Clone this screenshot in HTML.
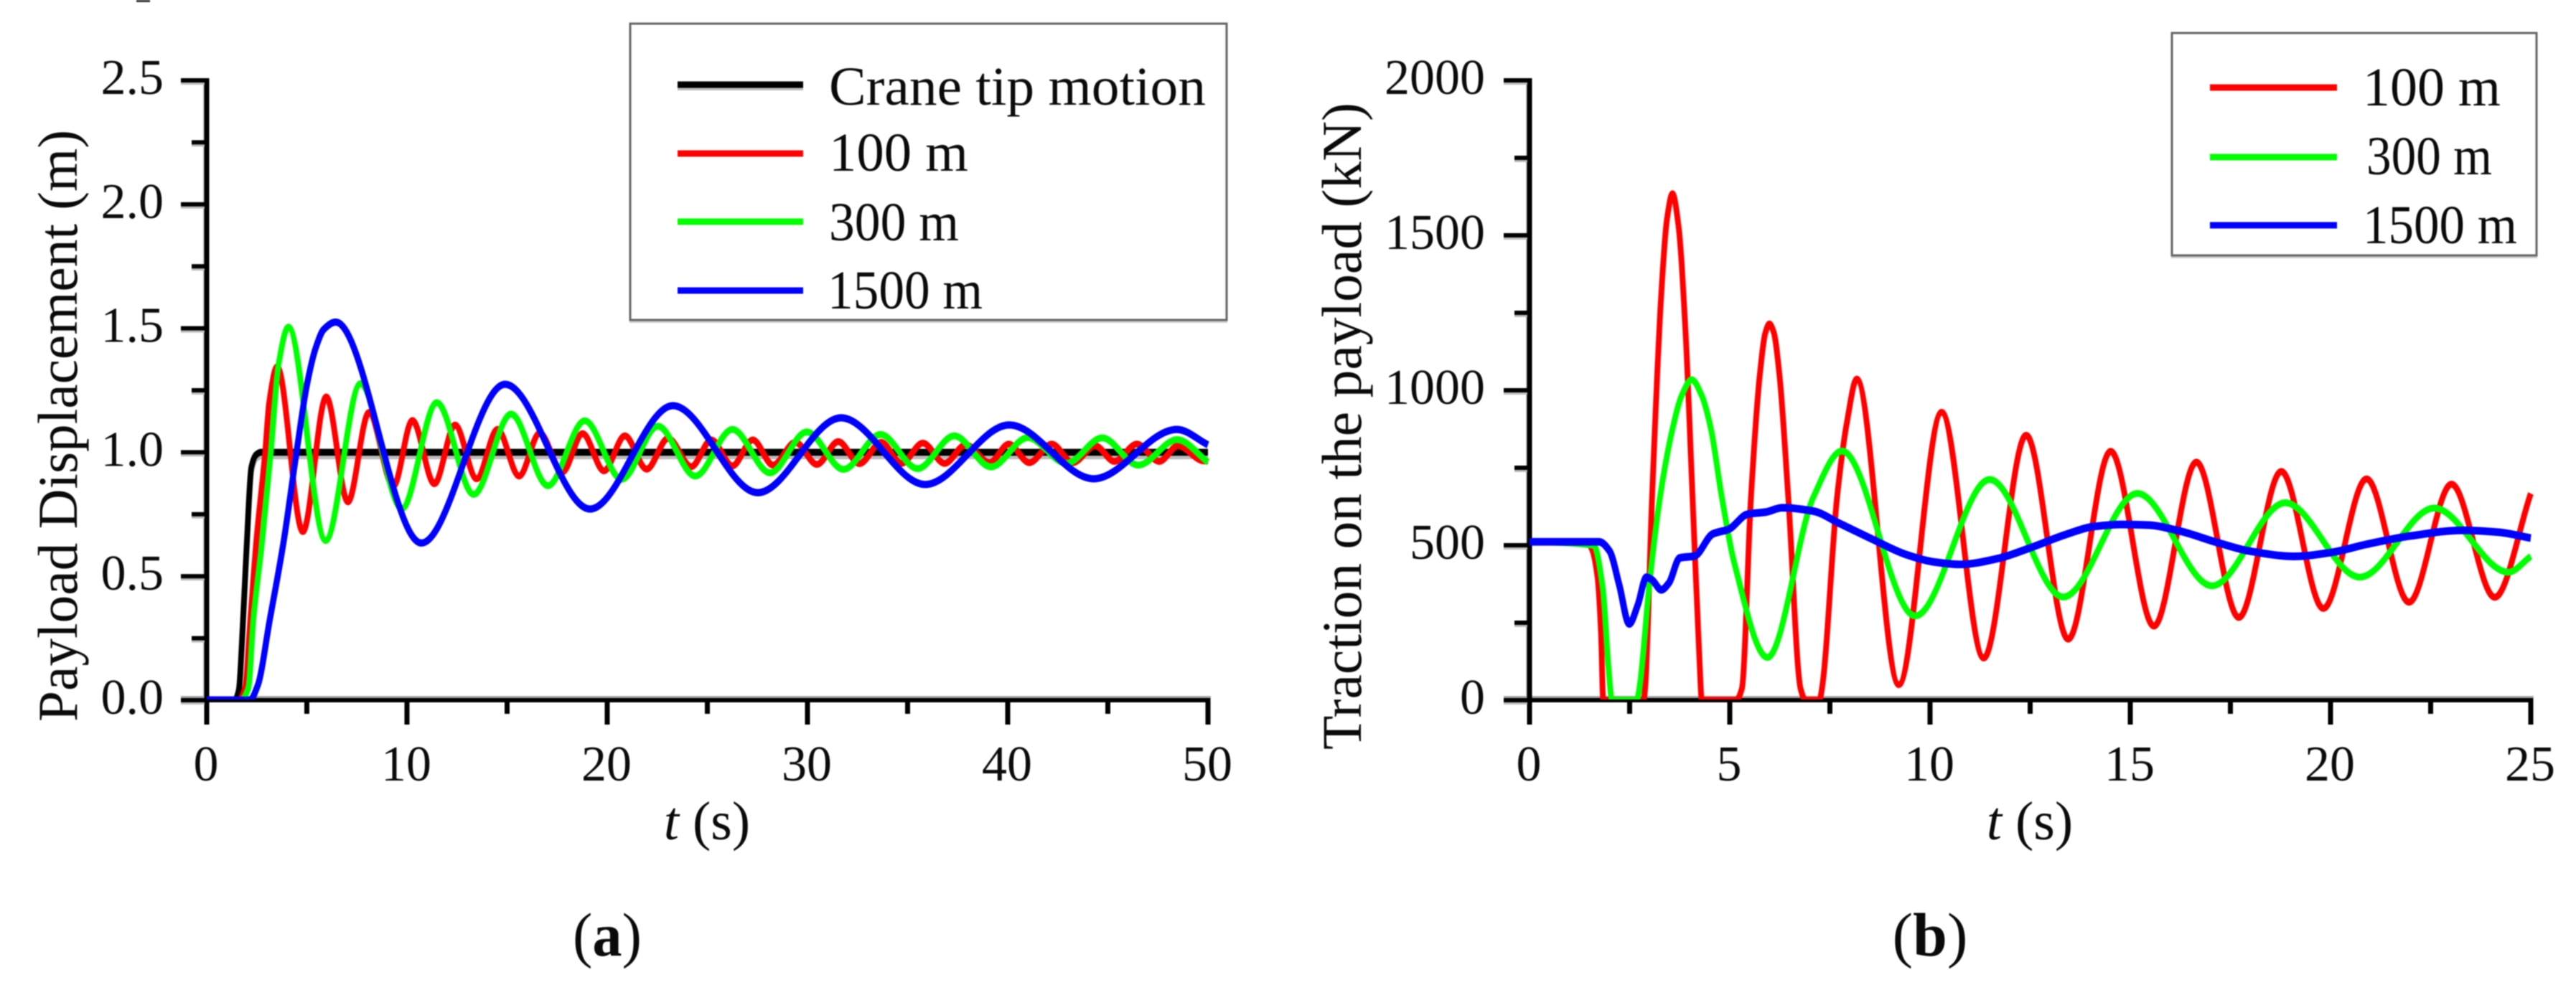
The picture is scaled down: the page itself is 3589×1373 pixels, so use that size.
<!DOCTYPE html>
<html>
<head>
<meta charset="utf-8">
<title>Payload displacement and traction</title>
<style>
html,body{margin:0;padding:0;background:#fff;width:3589px;height:1373px;overflow:hidden}
svg{display:block;position:absolute;left:0;top:0;filter:blur(0.7px)}
text{font-family:"Liberation Serif",serif;fill:#0a0a0a}
</style>
</head>
<body>
<svg id="figure" xmlns="http://www.w3.org/2000/svg" width="3589" height="1373" viewBox="0 0 3589 1373">
  <defs>
    <clipPath id="clip-a"><rect x="0" y="0" width="1690" height="975"/></clipPath>
    <clipPath id="clip-b"><rect x="2000" y="0" width="1533" height="975"/></clipPath>
  </defs>
  <rect x="0" y="0" width="3589" height="1373" fill="#fff"/>
  <rect x="190" y="0" width="19" height="3" fill="#333"/>
  <g id="chart-a">
    <text transform="translate(107 1006) rotate(-90)" font-size="78" textLength="825" lengthAdjust="spacingAndGlyphs">Payload Displacement (m)</text>
    <text x="985" y="1170" font-size="76" text-anchor="middle"><tspan font-style="italic">t</tspan> (s)</text>
  </g>
  <g id="chart-b">
    <text transform="translate(1896 1045) rotate(-90)" font-size="78" textLength="902" lengthAdjust="spacingAndGlyphs">Traction on the payload (kN)</text>
    <text x="2828" y="1170" font-size="76" text-anchor="middle"><tspan font-style="italic">t</tspan> (s)</text>
  </g>
  <g id="legend-a">
    <rect x="877" y="447" width="833" height="3" fill="#ccc"/>
    <rect x="878" y="33" width="831" height="413" fill="#fff" stroke="#666" stroke-width="3"/>
    <rect x="944" y="122" width="175" height="4" fill="#bbb"/>
    <line x1="944" y1="118" x2="1119" y2="118" stroke="#000" stroke-width="9"/>
    <text x="1155" y="146" font-size="76" textLength="525" lengthAdjust="spacingAndGlyphs">Crane tip motion</text>
    <line x1="944" y1="214" x2="1119" y2="214" stroke="#f00" stroke-width="9"/>
    <text x="1155" y="238" font-size="76" textLength="194" lengthAdjust="spacingAndGlyphs">100 m</text>
    <line x1="944" y1="309" x2="1119" y2="309" stroke="#0f0" stroke-width="9"/>
    <text x="1155" y="335" font-size="76" textLength="181" lengthAdjust="spacingAndGlyphs">300 m</text>
    <line x1="944" y1="405" x2="1119" y2="405" stroke="#00f" stroke-width="9"/>
    <text x="1153" y="430" font-size="76" textLength="216" lengthAdjust="spacingAndGlyphs">1500 m</text>
  </g>
  <g id="legend-b">
    <rect x="3025" y="357" width="510" height="3" fill="#ccc"/>
    <rect x="3026" y="46" width="508" height="310" fill="#fff" stroke="#666" stroke-width="3"/>
    <line x1="3079" y1="122" x2="3256" y2="122" stroke="#f00" stroke-width="9"/>
    <text x="3292" y="147" font-size="76" textLength="192" lengthAdjust="spacingAndGlyphs">100 m</text>
    <line x1="3079" y1="219" x2="3256" y2="219" stroke="#0f0" stroke-width="9"/>
    <text x="3297" y="243" font-size="76" textLength="175" lengthAdjust="spacingAndGlyphs">300 m</text>
    <line x1="3079" y1="314" x2="3256" y2="314" stroke="#00f" stroke-width="9"/>
    <text x="3292" y="339" font-size="76" textLength="215" lengthAdjust="spacingAndGlyphs">1500 m</text>
  </g>
  <text x="846" y="1332" font-size="86" text-anchor="middle" textLength="96" lengthAdjust="spacingAndGlyphs">(<tspan font-weight="bold">a</tspan>)</text>
  <text x="2689" y="1332" font-size="86" text-anchor="middle" textLength="105" lengthAdjust="spacingAndGlyphs">(<tspan font-weight="bold">b</tspan>)</text>
</svg>
<script>
// ---- Chart (a): payload displacement ----
const dispXMajorTicks = [0, 10, 20, 30, 40, 50];
const dispXMinorTicks = [5, 15, 25, 35, 45];
const dispYMajorTicks = [0, 0.5, 1, 1.5, 2, 2.5];
const dispYMinorTicks = [0.25, 0.75, 1.25, 1.75, 2.25];
const dispXLabels = ['0', '10', '20', '30', '40', '50'];
const dispYLabels = ['0.0', '0.5', '1.0', '1.5', '2.0', '2.5'];

const craneT = [0, 1.4, 1.6, 1.8, 2.0, 2.23, 2.47, 2.7, 50];
const craneV = [0, 0, 0.04, 0.3, 0.63, 0.94, 0.99, 1, 1];

const disp100T = [0, 1.6, 1.92, 2.18, 2.47, 2.92, 3.12, 3.52, 4.8, 5.97, 7.05, 8.1, 9.32, 10.27, 11.37, 12.4, 13.48, 14.52, 15.6, 16.63, 17.76, 18.77, 19.84, 20.88, 21.97, 23.04, 24.2, 25.2, 26.25, 27.27, 28.28, 29.4, 30.47, 31.54, 32.6, 33.68, 34.69, 35.76, 36.85, 37.9, 39.1, 40.05, 41.08, 42.2, 43.25, 44.37, 45.33, 46.45, 47.57, 48.5, 49.8, 50];
const disp100V = [0, 0, 0.05, 0.325, 0.634, 1, 1.2, 1.345, 0.68, 1.223, 0.8, 1.16, 0.863, 1.128, 0.873, 1.11, 0.893, 1.092, 0.904, 1.077, 0.92, 1.075, 0.925, 1.066, 0.932, 1.056, 0.942, 1.05, 0.945, 1.05, 0.948, 1.04, 0.951, 1.043, 0.954, 1.04, 0.955, 1.037, 0.955, 1.03, 0.958, 1.033, 0.958, 1.033, 0.958, 1.026, 0.963, 1.033, 0.963, 1.026, 0.965, 0.966];

const disp300T = [0, 1.7, 2.08, 2.33, 2.76, 3.2, 3.59, 4.08, 5.94, 7.68, 9.75, 11.49, 13.33, 15.2, 17.04, 18.88, 20.72, 22.53, 24.4, 26.25, 28.13, 29.97, 31.8, 33.65, 35.5, 37.33, 39.17, 41.0, 42.93, 44.72, 46.52, 48.46, 50];
const disp300V = [0, 0, 0.05, 0.325, 0.634, 1, 1.355, 1.505, 0.644, 1.277, 0.773, 1.2, 0.83, 1.154, 0.865, 1.127, 0.891, 1.105, 0.904, 1.092, 0.917, 1.082, 0.931, 1.072, 0.934, 1.066, 0.941, 1.059, 0.955, 1.058, 0.948, 1.051, 0.96];

const disp1500T = [0, 2.15, 2.55, 3.15, 3.83, 4.52, 5.0, 5.44, 5.84, 6.44, 10.72, 14.9, 19.14, 23.28, 27.52, 31.68, 35.88, 40.08, 44.29, 48.45, 50];
const disp1500V = [0, 0, 0.06, 0.325, 0.634, 1.02, 1.27, 1.42, 1.495, 1.525, 0.634, 1.274, 0.771, 1.188, 0.837, 1.139, 0.87, 1.11, 0.893, 1.092, 1.03];

// ---- Chart (b): traction on the payload ----
const tracXMajorTicks = [0, 5, 10, 15, 20, 25];
const tracXMinorTicks = [2.5, 7.5, 12.5, 17.5, 22.5];
const tracYMajorTicks = [0, 500, 1000, 1500, 2000];
const tracYMinorTicks = [250, 750, 1250, 1750];
const tracXLabels = ['0', '5', '10', '15', '20', '25'];
const tracYLabels = ['0', '500', '1000', '1500', '2000'];

const trac100T = [0, 1.42, 1.55, 1.7, 1.785, 1.84, 2.85, 2.885, 3.06, 3.29, 3.43, 3.57, 3.72, 3.89, 4.07, 4.25, 4.3, 5.16, 5.3, 5.53, 5.75, 5.89, 5.99, 6.1, 6.24, 6.46, 6.77, 6.89, 7.24, 7.3, 7.68, 7.93, 8.17, 9.22, 10.29, 11.34, 12.4, 13.45, 14.51, 15.59, 16.65, 17.71, 18.77, 19.82, 20.9, 21.96, 23.02, 24.1, 25];
const trac100V = [511, 511, 490, 395, 218, 0, 0, 36, 656, 1311, 1550, 1634, 1530, 1202, 656, 110, 0, 0, 36, 656, 1050, 1186, 1214, 1186, 1050, 656, 36, 0, 0, 36, 656, 900, 1036, 50, 929, 136, 855, 197, 803, 239, 768, 267, 738, 296, 714, 316, 697, 332, 667];

const trac300T = [0, 1.6, 1.83, 1.97, 2.06, 2.68, 2.74, 3.0, 3.26, 3.57, 3.8, 4.05, 4.3, 4.53, 4.8, 5.12, 5.94, 7.09, 7.8, 9.63, 11.49, 13.33, 15.18, 17.04, 18.87, 20.73, 22.59, 24.44, 25];
const trac300V = [511, 500, 361, 110, 0, 0, 36, 383, 656, 875, 983, 1034, 983, 875, 656, 439, 138, 656, 804, 272, 712, 333, 667, 369, 637, 397, 620, 413, 464];

const trac1500T = [0, 1.74, 2.0, 2.24, 2.49, 2.7, 2.92, 3.06, 3.29, 3.48, 3.75, 4.12, 4.57, 4.98, 5.44, 5.9, 6.31, 7.09, 7.73, 8.55, 9.38, 10.1, 10.75, 11.69, 12.47, 13.4, 14.07, 14.8, 15.46, 16.2, 17.19, 17.98, 19.1, 20.03, 20.9, 22.0, 23.3, 24.2, 25];
const trac1500V = [511, 511, 481, 372, 246, 306, 397, 388, 356, 378, 459, 465, 536, 552, 600, 607, 621, 610, 571, 520, 471, 446, 438, 457, 490, 535, 560, 567, 565, 547, 508, 481, 464, 477, 503, 530, 548, 542, 523];

const SVG_NS = 'http://www.w3.org/2000/svg';
// The source figure is stretched vertically, so curve strokes are taller than they are wide.
const strokeStretch = 1.2;

function linearAxis(d0, d1, p0, p1) {
  return function (v) { return p0 + (v - d0) * (p1 - p0) / (d1 - d0); };
}

// Shape-preserving cubic slopes through the read-off points
function slopes(t, v) {
  const n = t.length, h = [], del = [], d = new Array(n).fill(0);
  for (let i = 0; i < n - 1; i++) {
    h[i] = t[i + 1] - t[i];
    del[i] = (v[i + 1] - v[i]) / h[i];
  }
  for (let i = 1; i < n - 1; i++) {
    if (del[i - 1] * del[i] > 0) {
      const w1 = 2 * h[i] + h[i - 1], w2 = h[i] + 2 * h[i - 1];
      d[i] = (w1 + w2) / (w1 / del[i - 1] + w2 / del[i]);
    }
  }
  d[n - 1] = del[n - 2];
  return d;
}

function linePath(t, v, xAxis, yAxis) {
  const d = slopes(t, v);
  const py = function (val) { return (yAxis(val) / strokeStretch).toFixed(2); };
  let out = 'M' + xAxis(t[0]).toFixed(2) + ' ' + py(v[0]);
  for (let i = 0; i < t.length - 1; i++) {
    const h = t[i + 1] - t[i];
    out += 'C' + xAxis(t[i] + h / 3).toFixed(2) + ' ' + py(v[i] + d[i] * h / 3) + ' ' + xAxis(t[i + 1] - h / 3).toFixed(2) + ' ' + py(v[i + 1] - d[i + 1] * h / 3) + ' ' + xAxis(t[i + 1]).toFixed(2) + ' ' + py(v[i + 1]);
  }
  return out;
}

function drawSeries(group, name, t, v, xAxis, yAxis, color, width, offsetY) {
  const p = document.createElementNS(SVG_NS, 'path');
  
  
  p.setAttribute('d', linePath(t, v, xAxis, yAxis));
  p.setAttribute('fill', 'none');
  p.setAttribute('stroke', color);
  p.setAttribute('stroke-width', width);
  p.setAttribute('stroke-linejoin', 'round');
  p.setAttribute('transform', 'translate(0 ' + offsetY + ') scale(1 ' + strokeStretch + ')');
  group.appendChild(p);
}

function drawRect(group, name, x, y, w, h, fill) {
  const r = document.createElementNS(SVG_NS, 'rect');
  
  
  r.setAttribute('x', x);
  r.setAttribute('y', y);
  r.setAttribute('width', w);
  r.setAttribute('height', h);
  r.setAttribute('fill', fill);
  group.appendChild(r);
}

function drawLabel(group, name, x, y, anchor, str) {
  const s = document.createElementNS(SVG_NS, 'text');
  
  
  s.setAttribute('x', x);
  s.setAttribute('y', y);
  s.setAttribute('text-anchor', anchor);
  s.setAttribute('font-size', '70');
  s.textContent = str;
  group.appendChild(s);
}

function drawAxes(group, xAxis, yAxis, xMajor, xMinor, yMajor, yMinor, xLabels, yLabels, labelRight) {
  const x0 = xAxis(xMajor[0]), x1 = xAxis(xMajor[xMajor.length - 1]);
  const y0 = yAxis(yMajor[0]), y1 = yAxis(yMajor[yMajor.length - 1]);
  drawRect(group, 'y-axis-shadow', x0 - 5, y1 - 3, 3, y0 - y1 + 6, '#bbb');
  drawRect(group, 'x-axis-shadow', x0 - 36, y0 - 6, x1 - x0 + 40, 3, '#aaa');
  drawRect(group, 'y-axis-line', x0 - 3.5, y1 - 3, 7, y0 - y1 + 6, '#000');
  drawRect(group, 'x-axis-line', x0 - 3.5, y0 - 3, x1 - x0 + 7, 6, '#000');
  xMajor.forEach(function (v, i) {
    drawRect(group, 'x-major-tick', xAxis(v) - 3.5, y0, 7, 34, '#000');
    drawLabel(group, 'x-tick-label', xAxis(v) - 1, 1088, 'middle', xLabels[i]);
  });
  xMinor.forEach(function (v) {
    drawRect(group, 'x-minor-tick', xAxis(v) - 3.5, y0, 7, 19, '#000');
  });
  yMajor.forEach(function (v, i) {
    drawRect(group, 'y-major-tick-shadow', x0 - 36, yAxis(v) + 3, 33, 3, '#bbb');
    drawRect(group, 'y-major-tick', x0 - 36, yAxis(v) - 3, 36, 6, '#000');
    drawLabel(group, 'y-tick-label', labelRight, yAxis(v) + 19, 'end', yLabels[i]);
  });
  yMinor.forEach(function (v) {
    drawRect(group, 'y-minor-tick-shadow', x0 - 21, yAxis(v) + 3, 18, 3, '#bbb');
    drawRect(group, 'y-minor-tick', x0 - 21, yAxis(v) - 3, 21, 6, '#000');
  });
}

function seriesGroup(parent, name, clipId) {
  const g = document.createElementNS(SVG_NS, 'g');
  
  
  g.setAttribute('clip-path', 'url(#' + clipId + ')');
  parent.appendChild(g);
  return g;
}

const xDisp = linearAxis(0, 50, 288, 1683);
const yDisp = linearAxis(0, 2.5, 976, 112);
const xTrac = linearAxis(0, 25, 2131, 3526);
const yTrac = linearAxis(0, 2000, 976, 112);

const chartA = document.getElementById('chart-a');
drawAxes(chartA, xDisp, yDisp, dispXMajorTicks, dispXMinorTicks, dispYMajorTicks, dispYMinorTicks, dispXLabels, dispYLabels, 228);
const curvesA = seriesGroup(chartA, 'displacement-curves', 'clip-a');
drawSeries(curvesA, 'series-crane-tip-shadow', craneT, craneV, xDisp, yDisp, '#bbb', 8, 5);
drawSeries(curvesA, 'series-crane-tip', craneT, craneV, xDisp, yDisp, '#000', 8, 0);
drawSeries(curvesA, 'series-100m', disp100T, disp100V, xDisp, yDisp, '#f00', 8, 0);
drawSeries(curvesA, 'series-300m', disp300T, disp300V, xDisp, yDisp, '#0f0', 8, 0);
drawSeries(curvesA, 'series-1500m', disp1500T, disp1500V, xDisp, yDisp, '#00f', 8.5, 0);

const chartB = document.getElementById('chart-b');
drawAxes(chartB, xTrac, yTrac, tracXMajorTicks, tracXMinorTicks, tracYMajorTicks, tracYMinorTicks, tracXLabels, tracYLabels, 2069);
const curvesB = seriesGroup(chartB, 'traction-curves', 'clip-b');
drawSeries(curvesB, 'series-100m', trac100T, trac100V, xTrac, yTrac, '#f00', 8, 0);
drawSeries(curvesB, 'series-300m', trac300T, trac300V, xTrac, yTrac, '#0f0', 8, 0);
drawSeries(curvesB, 'series-1500m', trac1500T, trac1500V, xTrac, yTrac, '#00f', 9, 0);
</script>
</body>
</html>
